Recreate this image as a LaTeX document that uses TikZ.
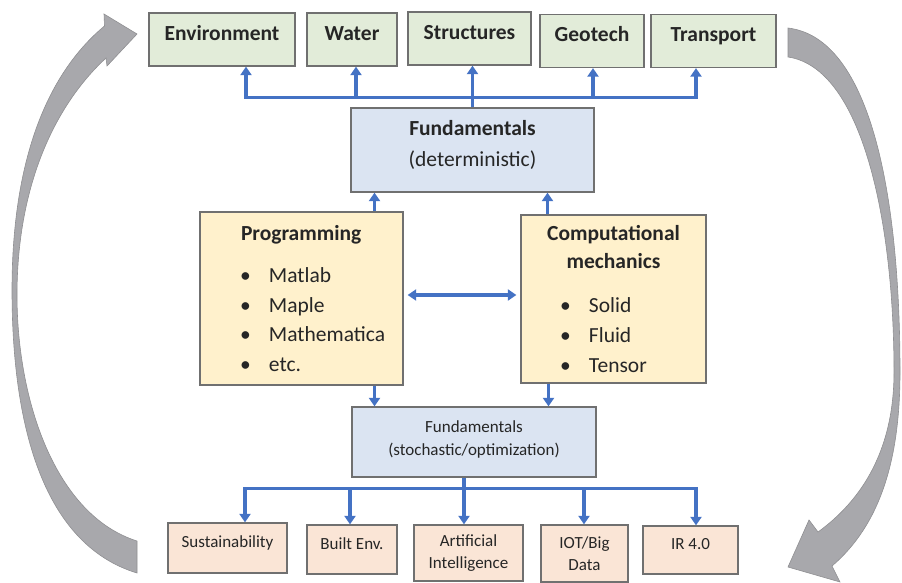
\documentclass[tikz,border=0pt]{standalone}
\usepackage{fontspec}
\setmainfont{Carlito}
\usetikzlibrary{arrows.meta,calc,positioning}

\definecolor{boxgreen}{RGB}{226,236,217}
\definecolor{boxblue}{RGB}{219,228,242}
\definecolor{boxyellow}{RGB}{255,241,204}
\definecolor{boxorange}{RGB}{250,229,214}
\definecolor{linkblue}{RGB}{68,114,196}
\definecolor{edgegray}{RGB}{112,112,112}
\definecolor{loopgray}{RGB}{168,168,172}

\newcommand{\largetxt}{\fontsize{21.5}{29.7}\selectfont}
\newcommand{\smalltxt}{\fontsize{17}{22}\selectfont}
\newcommand{\bul}{\makebox[29pt][l]{\textbullet}}

\tikzset{
  box/.style={draw=edgegray, line width=1.3pt, inner sep=0pt, text=black!85},
  topbox/.style={box, fill=boxgreen, minimum height=53pt, font=\largetxt\bfseries,
    text height=14pt, text depth=12pt},
  fundbox/.style={box, fill=boxblue},
  fundtext/.style={align=center, inner sep=0pt, text=black!85},
  topicbox/.style={box, fill=boxyellow, align=left, font=\largetxt},
  appbox/.style={box, fill=boxorange, font=\smalltxt, align=center},
  oneline/.style={text height=11pt, text depth=12pt},
  flowline/.style={draw=linkblue, line width=3.2pt},
  flow/.style={flowline, -{Triangle[width=11pt,length=8.5pt]}},
  flowboth/.style={flowline, {Triangle[width=11pt,length=8.5pt]}-{Triangle[width=11pt,length=8.5pt]}},
  loop/.style={fill=loopgray, draw=loopgray!85!black, line width=0.6pt}
}

\begin{document}
\begin{tikzpicture}[x=1pt,y=-1pt]
\useasboundingbox (0,0) rectangle (902,583);

% grey loop arrows
\draw[loop] (137,573) .. controls (45,545) and (12,430) .. (12,290)
  .. controls (12,170) and (42,78) .. (104.5,26) -- (104,14) -- (137,34) -- (107,66) -- (106,58)
  .. controls (52,108) and (17,190) .. (17,295)
  .. controls (17,400) and (55,515) .. (137,541) -- cycle;
\draw[loop] (788,28) .. controls (872,38) and (900,200) .. (900,372)
  .. controls (900,460) and (880,525) .. (832,566) -- (840,582) -- (788,567) -- (809,520) -- (818,532)
  .. controls (862,500) and (894,450) .. (894,372)
  .. controls (894,220) and (862,68) .. (788,57) -- cycle;

% application areas
\node[topbox, minimum width=146pt] (env) at (222,39.5) {Environment};
\node[topbox, minimum width=90pt] (water) at (352,39.5) {Water};
\node[topbox, minimum width=123pt] (struct) at (469.5,38.5) {Structures};
\node[topbox, minimum width=104pt] (geo) at (592,41) {Geotech};
\node[topbox, minimum width=125pt] (trans) at (713.5,41) {Transport};

% fundamentals
\node[fundbox, minimum width=243pt, minimum height=84pt] (fdet) at (472.5,150) {};
\node[fundtext, font=\fontsize{21.5}{31}\selectfont] (fdettxt) at ([yshift=5pt]fdet.center)
  {\textbf{Fundamentals}\\(deterministic)};
\node[fundbox, minimum width=244pt, minimum height=70pt] (fstoch) at (474,442) {};
\node[fundtext, font=\fontsize{17}{23}\selectfont] (fstochtxt) at ([yshift=3pt]fstoch.center)
  {Fundamentals\\(stochastic/optimization)};

% tools
\node[topicbox, text width=203pt, minimum height=173pt] (prog) at (301.5,298.5)
  {\hspace*{41pt}\textbf{Programming}\\[12.3pt]
   \hspace*{40pt}\bul Matlab\\
   \hspace*{40pt}\bul Maple\\
   \hspace*{40pt}\bul Mathematica\\
   \hspace*{40pt}\bul etc.};
\node[topicbox, text width=185pt, minimum height=168pt] (comp) at (613.5,299)
  {\makebox[185pt]{\textbf{Computational}}\\[-1.7pt]
   \makebox[185pt]{\textbf{mechanics}}\\[14pt]
   \hspace*{39pt}\bul Solid\\
   \hspace*{39pt}\bul Fluid\\
   \hspace*{39pt}\bul Tensor};

% emerging topics
\node[appbox, oneline, minimum width=119pt, minimum height=50pt] (sus) at (227.5,548) {Sustainability};
\node[appbox, oneline, minimum width=90pt, minimum height=49pt] (built) at (352,549.5) {Built Env.};
\node[appbox, minimum width=109pt, minimum height=56pt] (ai) at (468.5,553) {Artificial\\Intelligence};
\node[appbox, minimum width=87pt, minimum height=57pt] (iot) at (584.5,553.5) {IOT/Big\\Data};
\node[appbox, oneline, minimum width=95pt, minimum height=48pt] (ir) at (690.5,550) {IR 4.0};

% top distribution
\coordinate (tb) at ($(fdet.north)+(0,-10)$);
\draw[flowline] (fdet.north) -- (tb);
\foreach \n/\dx in {env/24,water/4,struct/3,geo/1,trans/-17.5}{
  \coordinate (\n-in) at ($(\n.south)+(\dx,0)$);
  \draw[flow] (tb) -| (\n-in);
}

% middle links
\coordinate (pu) at ($(prog.north)+(73,0)$);
\draw[flow] (pu) -- (pu |- fdet.south);
\coordinate (cu) at ($(comp.north)+(-66,0)$);
\draw[flow] (cu) -- (cu |- fdet.south);
\coordinate (pd) at ($(prog.south)+(73,0)$);
\draw[flow] (pd) -- (pd |- fstoch.north);
\coordinate (cd) at ($(comp.south)+(-65,0)$);
\draw[flow] (cd) -- (cd |- fstoch.north);
\coordinate (pe) at ([shift={(4,-3.5)}]prog.east);
\draw[flowboth] (pe) -- ([xshift=-4pt]pe -| comp.west);

% bottom distribution
\coordinate (bb) at ($(fstoch.south)+(-10,11)$);
\draw[flowline] (bb |- fstoch.south) -- (bb);
\foreach \n/\dx in {sus/17.5,built/-2,ai/-4.5,iot/-0.5,ir/5.5}{
  \coordinate (\n-in) at ($(\n.north)+(\dx,0)$);
  \draw[flow] (bb) -| (\n-in);
}
\end{tikzpicture}
\end{document}
